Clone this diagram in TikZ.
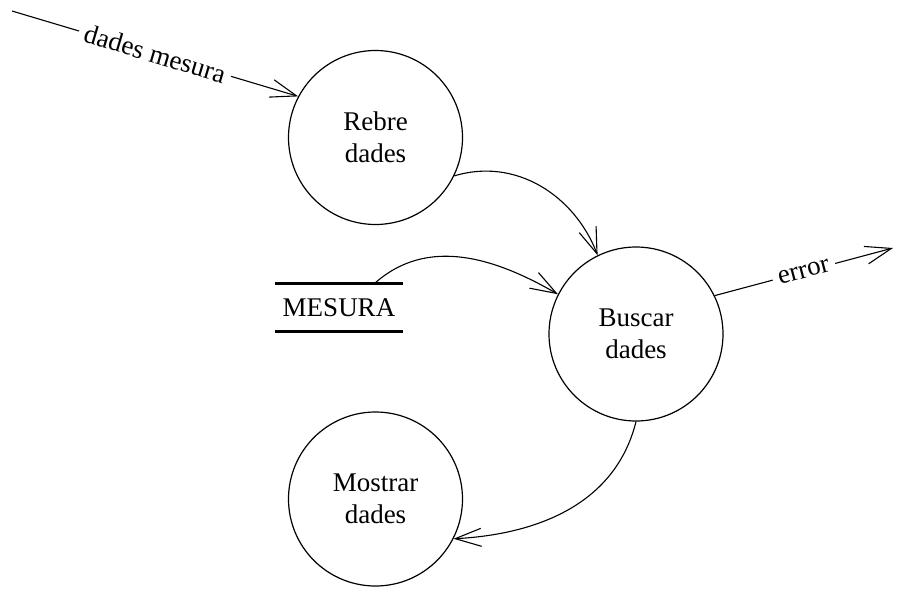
\documentclass[tikz,border=0pt]{standalone}
\usepackage{fontspec}
\setmainfont{Liberation Serif}
\usetikzlibrary{arrows.meta}
\newcommand\dfdfont{\fontsize{27}{32}\selectfont}
\begin{document}
\begin{tikzpicture}[x=1pt,y=-1pt,
  process/.style={circle,draw,line width=1.2pt,minimum size=174pt,inner sep=0pt,
    align=center,font=\dfdfont},
  datastore/.style={font=\dfdfont,minimum width=128pt,minimum height=47pt,inner sep=0pt},
  storeline/.style={line width=3pt},
  flow/.style={line width=1.1pt,
    -{Straight Barb[length=26pt,width=18pt,line width=1.1pt]}},
  flowlabel/.style={font=\dfdfont,fill=white,sloped,inner xsep=6pt,inner ysep=1pt}
]
\useasboundingbox (0,0) rectangle (897,595);

% processes
\node[process] (rebre)   at (375.5,137.5) {Rebre\\dades};
\node[process] (buscar)  at (636,334)     {Buscar\\dades};
\node[process] (mostrar) at (375.5,499)   {Mostrar\\dades};

% data store
\node[datastore] (store) at (339,307.5) {MESURA};
\draw[storeline] (store.north west) -- (store.north east);
\draw[storeline] (store.south west) -- (store.south east);

% external source and sink
\coordinate (src)  at (12,11);
\coordinate (sink) at (893,248);

% data flows
\draw[flow] (src) -- node[flowlabel]{dades mesura} (rebre.152);
\draw[flow] (rebre.-26) to[out=17,in=111] (buscar.116);
\draw[flow] (store.34) to[out=42,in=150] (buscar.153);
\draw[flow] (buscar.26) -- node[flowlabel]{error} (sink);
\draw[flow] (buscar.-90) to[out=-104,in=3] (mostrar.-27);
\end{tikzpicture}
\end{document}
